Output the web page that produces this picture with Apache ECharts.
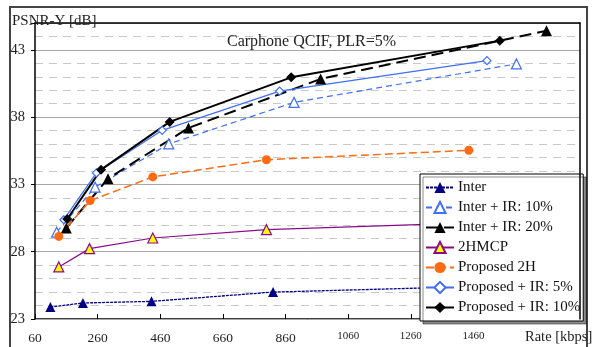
<!DOCTYPE html>
<html><head><meta charset="utf-8">
<script src="https://cdn.jsdelivr.net/npm/echarts@6/dist/echarts.min.js"></script>
<style>html,body{margin:0;padding:0;background:#fff}#c{width:596px;height:347px}</style>
</head><body><div id="c"></div>
<script>
// ---- data ----
const seriesNames = ['Inter', 'Inter + IR: 10%', 'Inter + IR: 20%', '2HMCP', 'Proposed 2H', 'Proposed + IR: 5%', 'Proposed + IR: 10%'];
const interRate = [109, 213, 432, 820, 1480];
const interPsnr = [23.89, 24.19, 24.31, 25.0, 25.42];
const interIR10Rate = [129, 252, 487, 887, 1597];
const interIR10Psnr = [29.45, 32.8, 36.01, 39.1, 41.96];
const interIR20Rate = [160, 293, 550, 972, 1693];
const interIR20Psnr = [29.77, 33.43, 37.2, 40.84, 44.43];
const hmcpRate = [136, 234, 436, 799, 1450];
const hmcpPsnr = [26.87, 28.23, 29.02, 29.64, 30.15];
const prop2HRate = [136, 236, 436, 799, 1445];
const prop2HPsnr = [29.14, 31.8, 33.56, 34.84, 35.54];
const propIR5Rate = [152, 256, 466, 841, 1503];
const propIR5Psnr = [30.38, 33.86, 37.02, 39.94, 42.2];
const propIR10Rate = [163, 271, 490, 878, 1544];
const propIR10Psnr = [30.43, 34.1, 37.65, 40.96, 43.69];
const xTickLabels = [60, 260, 460, 660, 860, 1060, 1260, 1460];
const yTickLabels = [23, 28, 33, 38, 43];

const FONT = 'Liberation Serif';
const zip = (a, b) => a.map((v, i) => [v, b[i]]);
const BLUE = '#3f6ff2';

const chart = echarts.init(document.getElementById('c'), null, {renderer: 'canvas'});
function mk(name, rate, psnr, line, sym) {
  return Object.assign({
    name: name, type: 'line', data: zip(rate, psnr), xAxisIndex: 0, yAxisIndex: 0,
    lineStyle: line, showSymbol: true, animation: false
  }, sym);
}
chart.setOption({
  animation: false,
  textStyle: {fontFamily: FONT},
  grid: {left: 35, top: 23, width: 545, height: 296, show: false, containLabel: false, outerBoundsMode: 'none'},
  title: {
    text: 'Carphone QCIF, PLR=5%', left: 227, top: 34, padding: 0,
    textStyle: {fontFamily: FONT, fontSize: 16, fontWeight: 'normal', color: '#222'}
  },
  legend: {
    orient: 'vertical', left: 420, top: 174, itemWidth: 28, itemHeight: 14, itemGap: 5,
    padding: [6, 3, 6, 5], backgroundColor: '#fff', borderColor: '#000', borderWidth: 1,
    shadowColor: 'rgba(0,0,0,0.45)', shadowOffsetX: 3, shadowOffsetY: 3, shadowBlur: 0,
    textStyle: {fontFamily: FONT, fontSize: 15, color: '#111', padding: [0, 0, 0, -1]},
    data: seriesNames
  },
  xAxis: [{
    type: 'value', min: 60, max: 1800, interval: 200, position: 'bottom',
    axisLine: {show: true, lineStyle: {color: '#000', width: 1.5}},
    axisTick: {show: true, inside: true, length: 5, lineStyle: {color: '#000'}},
    splitLine: {show: false},
    axisLabel: {
      margin: 12,
      formatter: v => xTickLabels.indexOf(v) >= 0 ? (v >= 1000 ? '{s|' + v + '}' : '{b|' + v + '}') : '',
      rich: {b: {fontFamily: FONT, fontSize: 13.5, color: '#222'}, s: {fontFamily: FONT, fontSize: 11, color: '#222'}}
    }
  }, {
    type: 'value', min: 60, max: 1800, position: 'top', z: 10,
    axisLine: {show: true, lineStyle: {color: '#000', width: 1.5}},
    axisTick: {show: false}, axisLabel: {show: false}, splitLine: {show: false}
  }],
  yAxis: [{
    type: 'value', min: 23, max: 45, interval: 1, position: 'left',
    axisLine: {show: false}, axisTick: {show: false}, axisLabel: {show: false},
    splitLine: {show: true, lineStyle: {color: '#c8c8c8', type: [8, 6], width: 1}}
  }, {
    type: 'value', min: 23, max: 45, interval: 5, z: 3, position: 'left', offset: 0,
    axisLine: {show: true, lineStyle: {color: '#000', width: 1.5}},
    axisTick: {show: true, length: 4, lineStyle: {color: '#000'}},
    axisLabel: {
      margin: 10, color: '#222', fontFamily: FONT, fontSize: 14.5,
      formatter: v => yTickLabels.indexOf(v) >= 0 ? String(v) : ''
    },
    splitLine: {show: true, lineStyle: {color: '#a8a8a8', width: 1}}
  }, {
    type: 'value', min: 23, max: 45, position: 'right', offset: 0, z: 10,
    axisLine: {show: true, lineStyle: {color: '#000', width: 1.5}},
    axisTick: {show: false}, axisLabel: {show: false}, splitLine: {show: false}
  }],
  graphic: [
    {type: 'rect', shape: {x: 10, y: 7, width: 577, height: 360}, style: {fill: 'none', stroke: '#444', lineWidth: 2}, silent: true, z: 0},
    {type: 'text', x: 12, y: 14, style: {text: 'PSNR-Y [dB]', font: '15px "Liberation Serif"', fill: '#222'}, z: 20},
    {type: 'text', x: 525, y: 330, style: {text: 'Rate [kbps]', font: '14.5px "Liberation Serif"', fill: '#222'}, z: 20},
    {type: 'text', x: 301, y: -16, style: {text: '(c)', font: '16px "Liberation Serif"', fill: '#444'}, z: 20}
  ],
  series: [
    mk('Inter', interRate, interPsnr, {color: '#000080', width: 1.3, type: [3, 1]},
      {symbol: 'triangle', symbolSize: 10, itemStyle: {color: '#000080'}}),
    mk('Inter + IR: 10%', interIR10Rate, interIR10Psnr, {color: BLUE, width: 1.2, type: [6, 4]},
      {symbol: 'triangle', symbolSize: 10, itemStyle: {color: '#fff', borderColor: BLUE, borderWidth: 1.2}}),
    mk('Inter + IR: 20%', interIR20Rate, interIR20Psnr, {color: '#000', width: 2, type: [12, 6]},
      {symbol: 'triangle', symbolSize: 11, itemStyle: {color: '#000'}}),
    mk('2HMCP', hmcpRate, hmcpPsnr, {color: '#8a0a8a', width: 1.2, type: 'solid'},
      {symbol: 'triangle', symbolSize: 10, itemStyle: {color: '#ffff00', borderColor: '#8a0a8a', borderWidth: 1.2}}),
    mk('Proposed 2H', prop2HRate, prop2HPsnr, {color: '#ff6a13', width: 1.5, type: [8, 4]},
      {symbol: 'circle', symbolSize: 9, itemStyle: {color: '#ff6a13'}}),
    mk('Proposed + IR: 5%', propIR5Rate, propIR5Psnr, {color: BLUE, width: 1.2, type: 'solid'},
      {symbol: 'diamond', symbolSize: 8, itemStyle: {color: '#fff', borderColor: BLUE, borderWidth: 1.2}}),
    mk('Proposed + IR: 10%', propIR10Rate, propIR10Psnr, {color: '#000', width: 2, type: 'solid'},
      {symbol: 'diamond', symbolSize: 10, itemStyle: {color: '#000'}})
  ]
});
</script></body></html>
